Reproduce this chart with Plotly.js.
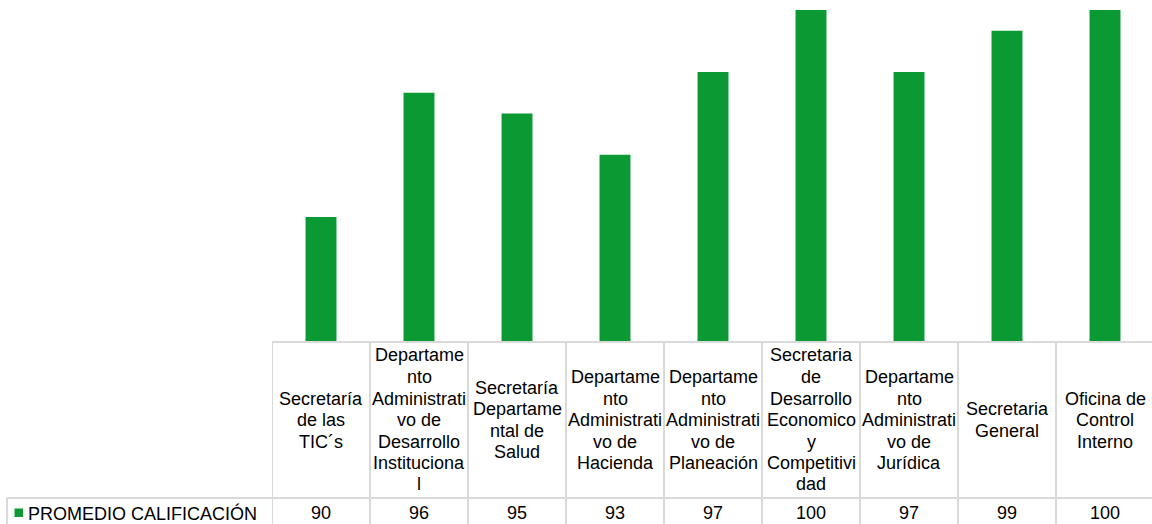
<!DOCTYPE html>
<html>
<head>
<meta charset="utf-8">
<script src="https://cdn.plot.ly/plotly-3.0.1.min.js"></script>
<style>
html,body{margin:0;padding:0;overflow:hidden;background:#fff;}
#chart{width:1154px;height:524px;}
</style>
</head>
<body>
<div id="chart"></div>
<script>
// ---- data ----
const categories = [
  "Secretaría de las TIC´s",
  "Departamento Administrativo de Desarrollo Institucional",
  "Secretaría Departamental de Salud",
  "Departamento Administrativo de Hacienda",
  "Departamento Administrativo de Planeación",
  "Secretaria de Desarrollo Economico y Competitividad",
  "Departamento Administrativo de Jurídica",
  "Secretaria General",
  "Oficina de Control Interno"
];
const categoryLines = [
  ["Secretaría","de las","TIC´s"],
  ["Departame","nto","Administrati","vo de","Desarrollo","Instituciona","l"],
  ["Secretaría","Departame","ntal de","Salud"],
  ["Departame","nto","Administrati","vo de","Hacienda"],
  ["Departame","nto","Administrati","vo de","Planeación"],
  ["Secretaria","de","Desarrollo","Economico","y","Competitivi","dad"],
  ["Departame","nto","Administrati","vo de","Jurídica"],
  ["Secretaria","General"],
  ["Oficina de","Control","Interno"]
];
const seriesName = "PROMEDIO CALIFICACIÓN";
const promedio = [90, 96, 95, 93, 97, 100, 97, 99, 100];

// ---- layout helpers (pixel -> paper) ----
const H = 524, T = 10, B = 183, L = 272, W = 1154;
const plotH = H - T - B;           // 331
const plotW = W - L;               // 882
const py = p => (H - B - p) / plotH;
const pxX = p => (p - L) / plotW;

const FONT = {family: "Liberation Sans, Arial, sans-serif", size: 18, color: "#000"};
const GRID = "#d9d9d9";
const GREEN = "#0b9933";

const shapes = [];
const annotations = [];
const n = categories.length;

// table grid
shapes.push({type:"line", xref:"x", yref:"paper", x0:-0.5, x1:n-0.5, y0:py(342), y1:py(342), line:{color:GRID,width:2}});
shapes.push({type:"line", xref:"paper", yref:"paper", x0:pxX(7), x1:1, y0:py(498), y1:py(498), line:{color:GRID,width:2}});
shapes.push({type:"line", xref:"paper", yref:"paper", x0:pxX(7), x1:pxX(7), y0:py(498), y1:py(526), line:{color:GRID,width:2}});
for (let i = 0; i <= n; i++) {
  shapes.push({type:"line", xref:"x", yref:"paper", x0:i-0.5, x1:i-0.5, y0:py(342), y1:py(526), line:{color:GRID,width:2}});
}
// legend key
shapes.push({type:"rect", xref:"paper", yref:"paper", x0:pxX(14.5), x1:pxX(23), y0:py(508.5), y1:py(517), fillcolor:GREEN, line:{width:0}});
annotations.push({xref:"paper", yref:"paper", x:pxX(27), y:py(513), text:seriesName, showarrow:false, xanchor:"left", yanchor:"middle", font:FONT, borderpad:0});

// header texts (one annotation per line, centred in cell)
const LH = 21.5, headerCenter = 420;
categoryLines.forEach((lines, i) => {
  const start = headerCenter - (lines.length - 1) * LH / 2;
  lines.forEach((t, k) => {
    annotations.push({xref:"x", yref:"paper", x:categories[i], y:py(start + k*LH), text:t, showarrow:false, xanchor:"center", yanchor:"middle", font:FONT, borderpad:0});
  });
  annotations.push({xref:"x", yref:"paper", x:categories[i], y:py(513), text:String(promedio[i]), showarrow:false, xanchor:"center", yanchor:"middle", font:FONT, borderpad:0});
});

const data = [{
  type: "bar",
  x: categories,
  y: promedio,
  name: seriesName,
  marker: {color: GREEN},
  hoverinfo: "none"
}];

const layout = {
  width: W, height: H,
  margin: {l: L, r: 0, t: T, b: B, pad: 0},
  paper_bgcolor: "#fff", plot_bgcolor: "#fff",
  showlegend: false,
  bargap: 0.684,
  xaxis: {type:"category", range:[-0.5, n-0.5], showticklabels:false, showgrid:false, zeroline:false, showline:false, ticks:""},
  yaxis: {range:[84, 100], visible:false, showgrid:false, zeroline:false},
  shapes: shapes,
  annotations: annotations,
  font: FONT
};

Plotly.newPlot("chart", data, layout, {staticPlot: true, displayModeBar: false});
</script>
</body>
</html>
